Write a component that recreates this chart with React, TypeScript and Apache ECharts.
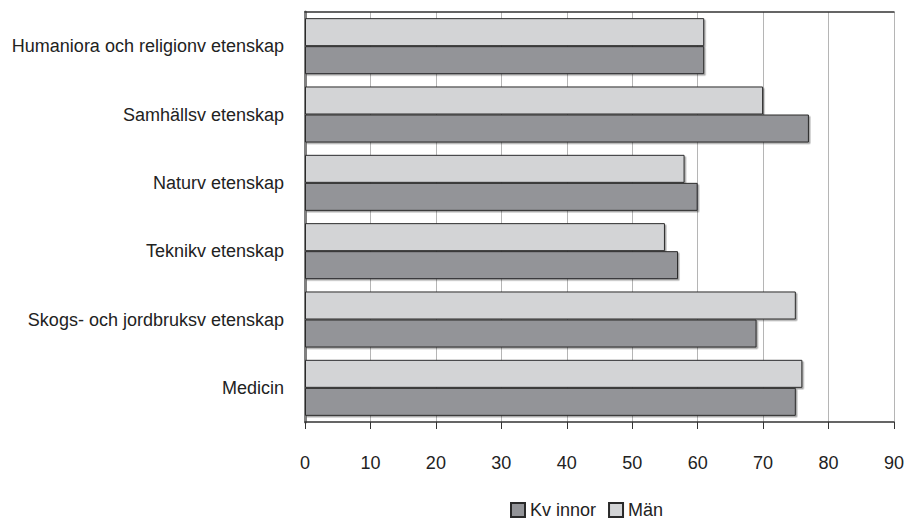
import React, { useEffect, useRef } from "react";
import * as echarts from "echarts";

// Categories listed from bottom to top (ECharts category y axis runs upward)
const categories = [
  "Medicin",
  "Skogs- och jordbruksv etenskap",
  "Teknikv etenskap",
  "Naturv etenskap",
  "Samhällsv etenskap",
  "Humaniora och religionv etenskap",
];
const kvinnor = [75, 69, 57, 60, 77, 61];
const man = [76, 75, 55, 58, 70, 61];
const xTicks = [0, 10, 20, 30, 40, 50, 60, 70, 80, 90];

const FONT = "'Liberation Sans Narrow', 'Liberation Sans', Arial, sans-serif";

export default function App() {
  const ref = useRef<HTMLDivElement>(null);
  useEffect(() => {
    if (!ref.current) return;
    const chart = echarts.init(ref.current, undefined, { renderer: "svg" });
    const barStyle = (color: string) => ({
      color,
      borderColor: "#2a2a2a",
      borderWidth: 1,
      shadowColor: "rgba(0,0,0,0.35)",
      shadowOffsetX: 1.5,
      shadowOffsetY: 1.5,
      shadowBlur: 0,
    });
    chart.setOption({
      animation: false,
      backgroundColor: "#ffffff",
      textStyle: { fontFamily: FONT },
      grid: { left: 305, right: 11, top: 12, bottom: 97, containLabel: false },
      legend: {
        data: ["Kvinnor", "Män"],
        left: 510,
        top: 501,
        padding: 0,
        itemWidth: 14,
        itemHeight: 14,
        itemGap: 12,
        icon: "rect",
        textStyle: { fontFamily: FONT, fontSize: 18, color: "#222" },
        formatter: (n: string) => (n === "Kvinnor" ? "Kv innor" : n),
      },
      xAxis: [
        {
          type: "value",
          min: 0,
          max: 90,
          interval: 10,
          position: "bottom",
          axisLine: { show: true, lineStyle: { color: "#333", width: 1.5 } },
          axisTick: { show: true, length: 7, lineStyle: { color: "#333", width: 1 } },
          axisLabel: {
            margin: 32,
            fontSize: 18,
            color: "#222",
            fontFamily: FONT,
            formatter: (v: number) => (xTicks.includes(v) ? String(v) : ""),
          },
          splitLine: { show: true, lineStyle: { color: "#b5b5b5", width: 1 } },
        },
        {
          type: "value",
          min: 0,
          max: 90,
          interval: 10,
          position: "top",
          axisLine: { show: true, lineStyle: { color: "#333", width: 1.5 } },
          axisTick: { show: false },
          axisLabel: { show: false },
          splitLine: { show: false },
        },
      ],
      yAxis: [
        {
          type: "category",
          data: categories,
          position: "left",
          axisLine: { show: true, lineStyle: { color: "#333", width: 1.5 } },
          axisTick: { show: false },
          axisLabel: { margin: 21, fontSize: 18, color: "#222", fontFamily: FONT },
        },
        {
          type: "category",
          data: categories,
          position: "right",
          axisLine: { show: true, lineStyle: { color: "#808080", width: 3 } },
          axisTick: { show: false },
          axisLabel: { show: false },
        },
      ],
      series: [
        {
          name: "Män",
          type: "bar",
          data: man,
          barGap: "0%",
          barCategoryGap: "18%",
          itemStyle: barStyle("#d3d4d6"),
        },
        {
          name: "Kvinnor",
          type: "bar",
          data: kvinnor,
          barGap: "0%",
          barCategoryGap: "18%",
          itemStyle: barStyle("#939498"),
        },
      ],
    });
    return () => chart.dispose();
  }, []);
  return (
    <div
      ref={ref}
      style={{ position: "fixed", left: 0, top: 0, width: 907, height: 519 }}
    />
  );
}
